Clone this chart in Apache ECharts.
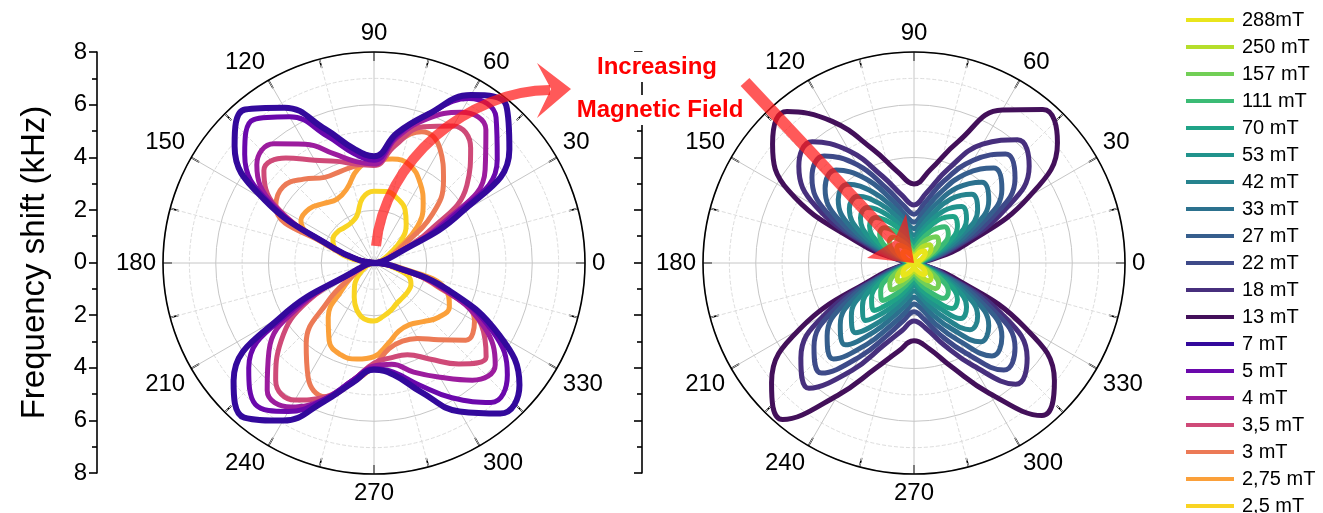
<!DOCTYPE html>
<html>
<head>
<meta charset="utf-8">
<script src="https://cdn.jsdelivr.net/npm/echarts/dist/echarts.min.js"></script>
<style>html,body{margin:0;padding:0;background:#fff}#c{width:1323px;height:513px}</style>
</head>
<body>
<div id="c"></div>
<script>
// ---------- data (radius in kHz at each sampled angle, degrees) ----------
const angles = [0,10,20,30,40,50,60,70,80,90,100,110,120,130,140,150,160,170,180,190,200,210,220,230,240,250,260,270,280,290,300,310,320,330,340,350];
const angleTicks = [0,30,60,90,120,150,180,210,240,270,300,330];
const radiusTicks = [0,2,4,6,8];

// left panel (low fields)
const r7mT   = [0,0.3,0.8,3.8,6.7,7.8,7.35,6.0,5.0,4.05, 4.4,5.4,6.8,7.6,6.9,4.8,1.6,0.5, 0,0.25,0.6,4.05,6.95,7.65,6.9,5.6,4.6,4.05, 4.3,5.2,6.5,7.45,7.2,5.5,3.0,0.8];
const r5mT   = [0,0.3,0.7,3.3,6.1,7.2,7.2,6.0,4.9,3.9, 4.2,5.1,6.4,7.1,6.4,4.6,1.6,0.5, 0,0.25,0.55,3.6,6.2,7.0,6.5,5.5,4.5,4.0, 4.2,4.9,5.9,6.9,6.6,5.2,2.9,0.75];
const r4mT   = [0,0.3,0.7,3.0,5.5,6.6,6.6,5.8,4.8,3.75, 3.9,4.4,5.2,5.9,5.8,4.4,1.6,0.5, 0,0.25,0.5,3.2,5.2,6.3,6.3,5.5,4.5,3.9, 3.9,4.4,5.0,5.8,6.0,4.8,2.7,0.7];
const r3p5mT = [0,0.3,0.7,2.4,4.6,5.7,6.0,5.5,4.5,3.7, 3.8,4.1,4.5,5.2,5.45,4.3,1.6,0.5, 0,0.25,0.5,2.9,4.6,5.8,6.0,5.4,4.5,3.8, 3.65,3.7,4.2,5.0,5.55,4.7,2.6,0.7];
const r3mT   = [0,0.3,0.6,1.2,2.9,4.1,5.0,5.3,4.6,3.8, 3.75,3.7,3.75,4.15,4.5,4.3,1.6,0.5, 0,0.2,0.4,0.9,2.3,4.0,5.0,5.4,4.6,3.9, 3.3,3.15,3.3,3.8,4.55,4.4,2.5,0.7];
const r2p75mT= [0,0.2,0.5,1.05,2.15,2.9,3.5,3.95,4.0,3.9, 3.6,3.0,2.8,2.95,3.2,3.2,1.8,0.5, 0,0.2,0.5,0.9,1.6,2.7,3.4,3.7,3.7,3.55, 3.1,2.75,2.7,2.9,3.2,3.3,2.9,1.0];
const r2p5mT = [0,0.1,0.3,0.65,1.35,1.9,2.35,2.6,2.75,2.72, 2.5,1.9,1.75,1.75,1.82,1.8,1.55,0.8, 0,0.1,0.25,0.45,0.8,1.15,1.5,1.9,2.15,2.2, 2.05,1.9,1.75,1.7,1.68,1.62,1.35,0.55];

// right panel (high fields)
const r13mT  = [0,0.6,2.1,5.05,7.1,7.6,6.7,4.9,3.6,3.0, 3.5,4.6,6.2,7.5,7.0,5.5,2.2,0.5, 0,0.35,1.5,5.0,7.05,7.75,5.8,4.25,3.4,2.95, 3.3,4.2,5.7,7.55,6.95,4.8,1.55,0.25];
const r18mT  = [0,0.45,1.6,3.9,5.7,6.1,5.2,3.8,2.7,2.2, 2.6,3.5,4.9,6.0,5.7,4.3,1.7,0.4, 0,0.3,1.2,3.9,5.6,6.2,4.7,3.3,2.6,2.2, 2.5,3.3,4.5,6.0,5.6,3.8,1.2,0.2];
const r22mT  = [0,0.4,1.4,3.4,5.0,5.4,4.5,3.3,2.3,1.85, 2.2,3.0,4.3,5.3,5.05,3.8,1.5,0.35, 0,0.25,1.05,3.4,4.95,5.45,4.1,2.9,2.2,1.85, 2.15,2.9,3.95,5.3,5.0,3.35,1.05,0.2];
const r27mT  = [0,0.35,1.2,2.9,4.35,4.7,3.9,2.8,1.95,1.55, 1.85,2.6,3.7,4.6,4.4,3.3,1.3,0.3, 0,0.2,0.9,2.95,4.3,4.75,3.55,2.5,1.9,1.55, 1.8,2.5,3.4,4.6,4.35,2.9,0.9,0.15];
const r33mT  = [0,0.3,1.0,2.45,3.7,4.0,3.3,2.35,1.65,1.3, 1.55,2.2,3.1,3.9,3.75,2.8,1.1,0.25, 0,0.2,0.75,2.5,3.65,4.05,3.0,2.1,1.6,1.3, 1.5,2.1,2.9,3.9,3.7,2.45,0.75,0.12];
const r42mT  = [0,0.22,0.8,2.05,3.15,3.4,2.8,1.95,1.35,1.05, 1.3,1.85,2.6,3.3,3.2,2.35,0.9,0.2, 0,0.15,0.6,2.1,3.1,3.45,2.55,1.75,1.3,1.05, 1.25,1.75,2.45,3.3,3.15,2.05,0.6,0.1];
const r53mT  = [0,0.18,0.65,1.7,2.6,2.8,2.3,1.6,1.1,0.85, 1.05,1.5,2.15,2.75,2.65,1.95,0.75,0.15, 0,0.12,0.5,1.75,2.55,2.85,2.1,1.45,1.05,0.85, 1.0,1.45,2.0,2.75,2.6,1.7,0.5,0.08];
const r70mT  = [0,0.15,0.55,1.4,2.15,2.3,1.9,1.3,0.9,0.7, 0.85,1.25,1.75,2.25,2.2,1.6,0.6,0.12, 0,0.1,0.4,1.45,2.1,2.35,1.7,1.2,0.85,0.7, 0.85,1.2,1.65,2.25,2.15,1.4,0.42,0.07];
const r111mT = [0,0.12,0.45,1.1,1.7,1.8,1.45,1.0,0.68,0.5, 0.65,0.95,1.35,1.75,1.7,1.25,0.47,0.1, 0,0.08,0.32,1.15,1.65,1.85,1.35,0.9,0.65,0.5, 0.65,0.92,1.3,1.75,1.7,1.1,0.33,0.05];
const r157mT = [0,0.09,0.33,0.8,1.22,1.3,1.05,0.72,0.48,0.35, 0.46,0.68,0.98,1.27,1.22,0.9,0.34,0.07, 0,0.06,0.23,0.82,1.2,1.33,0.97,0.65,0.47,0.35, 0.47,0.66,0.93,1.27,1.22,0.8,0.24,0.04];
const r250mT = [0,0.06,0.23,0.56,0.85,0.9,0.73,0.5,0.33,0.25, 0.32,0.47,0.68,0.88,0.85,0.62,0.24,0.05, 0,0.04,0.16,0.57,0.83,0.92,0.67,0.45,0.33,0.25, 0.33,0.46,0.65,0.88,0.85,0.56,0.17,0.03];
const r288mT = [0,0.04,0.15,0.37,0.56,0.6,0.49,0.33,0.22,0.15, 0.21,0.31,0.45,0.58,0.56,0.41,0.16,0.03, 0,0.03,0.11,0.38,0.55,0.61,0.44,0.3,0.22,0.15, 0.22,0.3,0.43,0.58,0.56,0.37,0.11,0.02];

// series names (legend order)
const legendNames = ['288mT','250 mT','157 mT','111 mT','70 mT','53 mT','42 mT','33 mT','27 mT','22 mT','18 mT','13 mT','7 mT','5 mT','4 mT','3,5 mT','3 mT','2,75 mT','2,5 mT'];

// ---------- styles ----------
const FONT = 'Arial, "Liberation Sans", Helvetica, sans-serif';
const leftSeries = [ // drawn first -> last
  {name:'2,5 mT',  values:r2p5mT,  color:'#f9d423'},
  {name:'2,75 mT', values:r2p75mT, color:'#fba03a'},
  {name:'3 mT',    values:r3mT,    color:'#ec7a56'},
  {name:'3,5 mT',  values:r3p5mT,  color:'#cf4a78'},
  {name:'4 mT',    values:r4mT,    color:'#9c1c9e'},
  {name:'5 mT',    values:r5mT,    color:'#6a08ac'},
  {name:'7 mT',    values:r7mT,    color:'#33099c'}
];
const rightSeries = [
  {name:'13 mT',  values:r13mT,  color:'#43105a'},
  {name:'18 mT',  values:r18mT,  color:'#472f7d'},
  {name:'22 mT',  values:r22mT,  color:'#3e4a89'},
  {name:'27 mT',  values:r27mT,  color:'#365e8d'},
  {name:'33 mT',  values:r33mT,  color:'#2c718e'},
  {name:'42 mT',  values:r42mT,  color:'#26838e'},
  {name:'53 mT',  values:r53mT,  color:'#21938c'},
  {name:'70 mT',  values:r70mT,  color:'#20a387'},
  {name:'111 mT', values:r111mT, color:'#3bbb75'},
  {name:'157 mT', values:r157mT, color:'#72cf56'},
  {name:'250 mT', values:r250mT, color:'#b5de2b'},
  {name:'288mT',  values:r288mT, color:'#e9e51c'}
];

function toPolar(vals){
  const d = angles.map((a,i)=>[vals[i], a]);
  d.push([vals[0], 360]);
  return d;
}
function mkSeries(s, pi, w){
  return {type:'line', name:s.name, coordinateSystem:'polar', polarIndex:pi,
    data: toPolar(s.values), showSymbol:false, symbol:'none', smooth:0.45,
    lineStyle:{color:s.color, width:w}, itemStyle:{color:s.color},
    silent:true, z:2};
}
function angleAxis(pi){
  return {polarIndex:pi, type:'value', min:0, max:360, interval:30, startAngle:0, clockwise:false, z:1,
    axisLine:{show:true, lineStyle:{color:'#000', width:1.6}},
    axisTick:{show:true, inside:true, length:9, lineStyle:{color:'#000', width:1.6}},
    minorTick:{show:true, splitNumber:2, length:9, lineStyle:{color:'#000', width:1.6}},
    axisLabel:{show:true, margin:7, fontSize:24, color:'#000', fontFamily:FONT,
      formatter: v => angleTicks.indexOf(v) >= 0 ? String(v) : ''},
    splitLine:{show:true, lineStyle:{color:'#c6c6c6', width:1}},
    minorSplitLine:{show:true, lineStyle:{color:'#dddddd', width:1, type:'dashed'}}
  };
}
function radiusAxis(pi){
  return {polarIndex:pi, type:'value', min:radiusTicks[0], max:radiusTicks[radiusTicks.length-1], interval:2, z:0,
    axisLine:{show:false}, axisTick:{show:false}, axisLabel:{show:false},
    minorTick:{show:false, splitNumber:2},
    splitLine:{show:true, lineStyle:{color:'#c6c6c6', width:1}},
    minorSplitLine:{show:true, lineStyle:{color:'#dddddd', width:1, type:'dashed'}}
  };
}
function yAx(gi, withLabels){
  const o = {gridIndex:gi, type:'value', min:-8, max:8, interval:2,
    axisLine:{show:true, onZero:false, lineStyle:{color:'#000', width:1.6}},
    axisTick:{show:true, length:8, lineStyle:{color:'#000', width:1.6}},
    minorTick:{show:true, splitNumber:2, length:5, lineStyle:{color:'#000', width:1.6}},
    splitLine:{show:false},
    axisLabel:{show:withLabels, fontSize:24, color:'#000', fontFamily:FONT, margin:10,
      formatter: v => String(Math.abs(v))}
  };
  if (withLabels){
    o.name = 'Frequency shift (kHz)';
    o.nameLocation = 'middle';
    o.nameGap = 46;
    o.nameTextStyle = {fontSize:33, color:'#000', fontFamily:FONT};
  }
  return o;
}

const arrowColor = 'rgba(255,25,25,0.72)';
const option = {
  backgroundColor:'#fff',
  animation:false,
  textStyle:{fontFamily:FONT},
  polar:[{center:[374,263], radius:211}, {center:[914,263], radius:211}],
  angleAxis:[angleAxis(0), angleAxis(1)],
  radiusAxis:[radiusAxis(0), radiusAxis(1)],
  grid:[{left:97, top:52, height:421, width:1}, {left:642, top:52, height:421, width:1}],
  xAxis:[{gridIndex:0, type:'value', show:false, min:0, max:1}, {gridIndex:1, type:'value', show:false, min:0, max:1}],
  yAxis:[yAx(0,true), yAx(1,false)],
  legend:{orient:'vertical', left:1186, top:10, height:560, width:140, itemWidth:48, itemHeight:4, itemGap:7, icon:'rect',
    selectedMode:false, data:legendNames, padding:0,
    textStyle:{fontSize:20, color:'#000', fontFamily:FONT, padding:[0,0,0,3]}},
  series: leftSeries.map(s=>mkSeries(s,0,s.name==='7 mT'?6:5)).concat(rightSeries.map(s=>mkSeries(s,1,5))),
  graphic:[
    {type:'bezierCurve', z:100, silent:true,
      shape:{x1:376, y1:246, cpx1:384, cpy1:160, cpx2:470, cpy2:90, x2:550, y2:90},
      style:{stroke:arrowColor, lineWidth:10, fill:null}},
    {type:'polygon', z:100, silent:true,
      shape:{points:[[571,89],[537,63],[551,89],[537,118]]},
      style:{fill:arrowColor}},
    {type:'line', z:100, silent:true,
      shape:{x1:745, y1:82, x2:893, y2:240},
      style:{stroke:arrowColor, lineWidth:12}},
    {type:'polygon', z:100, silent:true,
      shape:{points:[[914,263],[906,214],[894,241],[867,258]]},
      style:{fill:arrowColor}},
    {type:'text', z:101, silent:true,
      style:{text:'Increasing', x:657, y:67, textAlign:'center', textVerticalAlign:'middle',
        font:'bold 24px '+FONT, fill:'#ff0000', backgroundColor:'#fff', padding:[3,2]}},
    {type:'text', z:101, silent:true,
      style:{text:'Magnetic Field', x:660, y:110, textAlign:'center', textVerticalAlign:'middle',
        font:'bold 24px '+FONT, fill:'#ff0000', backgroundColor:'#fff', padding:[3,2]}}
  ]
};
const chart = echarts.init(document.getElementById('c'), null, {renderer:'canvas'});
chart.setOption(option);
</script>
</body>
</html>
